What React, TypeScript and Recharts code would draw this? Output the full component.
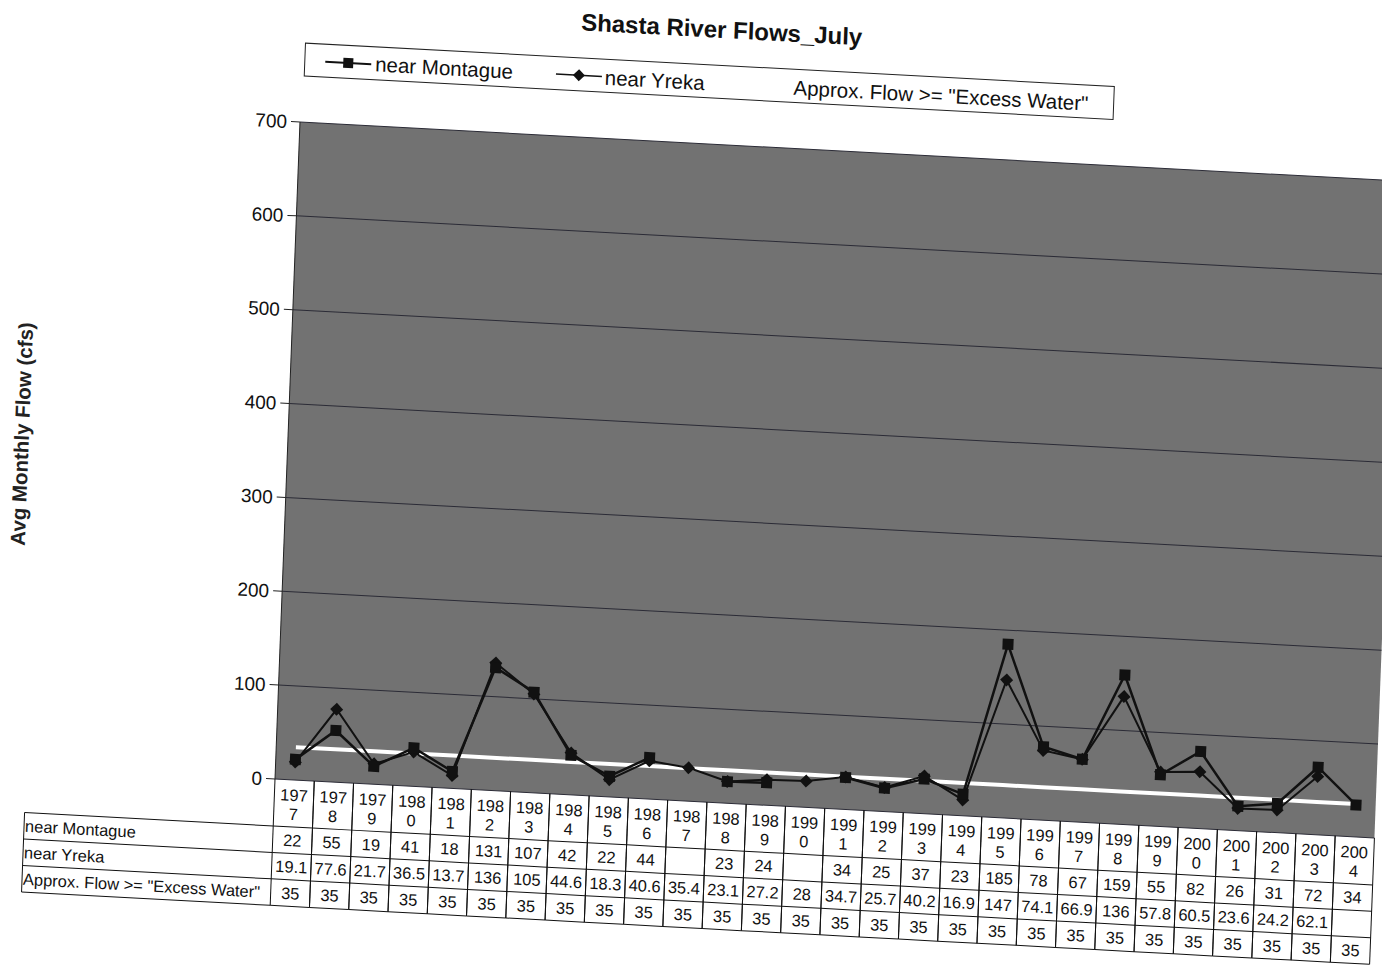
import React from 'react';
import { LineChart, Line, XAxis, YAxis, CartesianGrid } from 'recharts';

const years = ['1977','1978','1979','1980','1981','1982','1983','1984','1985','1986','1987','1988','1989','1990','1991','1992','1993','1994','1995','1996','1997','1998','1999','2000','2001','2002','2003','2004'];
const montague: (number | null)[] = [22,55,19,41,18,131,107,42,22,44,null,23,24,null,34,25,37,23,185,78,67,159,55,82,26,31,72,34];
const yreka: (number | null)[] = [19.1,77.6,21.7,36.5,13.7,136,105,44.6,18.3,40.6,35.4,23.1,27.2,28,34.7,25.7,40.2,16.9,147,74.1,66.9,136,57.8,60.5,23.6,24.2,62.1,null];
const excess: (number | null)[] = [35,35,35,35,35,35,35,35,35,35,35,35,35,35,35,35,35,35,35,35,35,35,35,35,35,35,35,35];
const yTicks = [0,100,200,300,400,500,600,700];
const seriesNames = ['near Montague', 'near Yreka', 'Approx. Flow >= "Excess Water"'];

const data = years.map((y, i) => ({ year: y, montague: montague[i], yreka: yreka[i], excess: excess[i] }));

const W = 1400;
const H = 930;
const PLOT_LEFT = 275;
const PLOT_TOP = 121.6;
const PLOT_RIGHT = 1376;
const PLOT_BOTTOM = 779;
const YAXIS_W = 60;
const XAXIS_H = 130;
const COLW = (PLOT_RIGHT - PLOT_LEFT) / years.length;
const ROWS = [0, 47, 73.5, 100, 126.5];
const FONT = 'Arial, "Liberation Sans", sans-serif';
const INK = '#111';
const TFS = 16.5;

const fmt = (v: number | null) => (v == null ? '' : String(v));

const TableTick = (props: any) => {
  const { x, y, payload } = props;
  const i: number = payload && payload.index != null ? payload.index : props.index;
  const yr: string = String(payload.value);
  const x0 = x - COLW / 2;
  const x1 = x + COLW / 2;
  const vals = [montague[i], yreka[i], excess[i]];
  const els: React.ReactNode[] = [];
  els.push(<line key="l" x1={x0} y1={y + ROWS[0]} x2={x0} y2={y + ROWS[4]} stroke={INK} strokeWidth={1} />);
  els.push(<line key="r" x1={x1} y1={y + ROWS[0]} x2={x1} y2={y + ROWS[4]} stroke={INK} strokeWidth={1} />);
  for (let r = 1; r < ROWS.length; r++) {
    els.push(<line key={'h' + r} x1={x0} y1={y + ROWS[r]} x2={x1} y2={y + ROWS[r]} stroke={INK} strokeWidth={1} />);
  }
  els.push(<text key="y1" x={x} y={y + 15} textAnchor="middle" dominantBaseline="central" fontSize={TFS} fill={INK}>{yr.slice(0, 3)}</text>);
  els.push(<text key="y2" x={x} y={y + 34} textAnchor="middle" dominantBaseline="central" fontSize={TFS} fill={INK}>{yr.slice(3)}</text>);
  vals.forEach((v, r) => {
    els.push(
      <text key={'v' + r} x={x} y={y + (ROWS[r + 1] + ROWS[r + 2]) / 2} textAnchor="middle" dominantBaseline="central" fontSize={TFS} fill={INK}>
        {fmt(v)}
      </text>
    );
  });
  if (i === 0) {
    const lx = 26;
    els.push(<line key="bl" x1={lx} y1={y + ROWS[1]} x2={lx} y2={y + ROWS[4]} stroke={INK} strokeWidth={1} />);
    for (let r = 1; r < ROWS.length; r++) {
      els.push(<line key={'bh' + r} x1={lx} y1={y + ROWS[r]} x2={x0} y2={y + ROWS[r]} stroke={INK} strokeWidth={1} />);
    }
    seriesNames.forEach((n, r) => {
      els.push(
        <text key={'n' + r} x={lx + 1} y={y + (ROWS[r + 1] + ROWS[r + 2]) / 2} dominantBaseline="central" fontSize={TFS} fill={INK}>
          {n}
        </text>
      );
    });
  }
  return <g>{els}</g>;
};

const SquareDot = (p: any) => {
  const { cx, cy, index } = p;
  if (cx == null || cy == null || p.value == null) return <g key={'sq' + index} />;
  return <rect key={'sq' + index} x={cx - 5.5} y={cy - 5.5} width={11} height={11} fill={INK} />;
};

const DiamondDot = (p: any) => {
  const { cx, cy, index } = p;
  if (cx == null || cy == null || p.value == null) return <g key={'dm' + index} />;
  return <polygon key={'dm' + index} points={`${cx},${cy - 6.5} ${cx + 6.5},${cy} ${cx},${cy + 6.5} ${cx - 6.5},${cy}`} fill={INK} />;
};

export default function App() {
  return (
    <div style={{ position: 'absolute', left: 0, top: 0, width: 1382, height: 967, overflow: 'hidden', background: '#fff', fontFamily: FONT }}>
      <div
        style={{
          position: 'absolute',
          left: 0,
          top: 0,
          width: W,
          height: H,
          transformOrigin: '276px 779px',
          transform: 'matrix(0.99856, 0.05356, -0.0380, 0.99928, 0, 0)',
        }}
      >
        <LineChart
          width={W}
          height={H}
          data={data}
          margin={{ top: PLOT_TOP, right: W - PLOT_RIGHT, bottom: H - PLOT_BOTTOM - XAXIS_H, left: PLOT_LEFT - YAXIS_W }}
          style={{ overflow: 'visible' }}
        >
          <CartesianGrid vertical={false} stroke="#2b2b36" strokeWidth={1} fill="#727272" fillOpacity={1} />
          <XAxis
            dataKey="year"
            scale="band"
            height={XAXIS_H}
            axisLine={false}
            tickLine={false}
            tickSize={0}
            tickMargin={0}
            interval={0}
            tick={<TableTick />}
          />
          <YAxis
            domain={[0, 700]}
            ticks={yTicks}
            width={YAXIS_W}
            tickSize={9}
            tickMargin={4}
            axisLine={{ stroke: '#222' }}
            tickLine={{ stroke: '#222' }}
            tick={{ fontSize: 19, fill: INK }}
            interval={0}
          />
          <Line dataKey="excess" stroke="#ffffff" strokeWidth={4} dot={false} activeDot={false} isAnimationActive={false} />
          <Line dataKey="yreka" stroke={INK} strokeWidth={2} dot={<DiamondDot />} activeDot={false} isAnimationActive={false} />
          <Line dataKey="montague" stroke={INK} strokeWidth={2.5} dot={<SquareDot />} activeDot={false} isAnimationActive={false} />
        </LineChart>

        <div style={{ position: 'absolute', left: 693, top: 7, transform: 'translate(-50%, -50%)', fontSize: 24, fontWeight: 'bold', color: INK, whiteSpace: 'nowrap' }}>
          Shasta River Flows_July
        </div>

        <div style={{ position: 'absolute', left: 9, top: 448, transform: 'translate(-50%, -50%) rotate(-90deg)', fontSize: 20.5, fontWeight: 'bold', color: '#222', whiteSpace: 'nowrap' }}>
          Avg Monthly Flow (cfs)
        </div>

        <div style={{ position: 'absolute', left: 277, top: 42, width: 811, height: 34, border: '1px solid #222', boxSizing: 'border-box', background: '#fff' }}>
          <svg style={{ position: 'absolute', left: 20, top: 10, overflow: 'visible' }} width={46} height={14}>
            <line x1={0} y1={7} x2={46} y2={7} stroke={INK} strokeWidth={2} />
            <rect x={18} y={2} width={10} height={10} fill={INK} />
          </svg>
          <div style={{ position: 'absolute', left: 70, top: 17, transform: 'translateY(-50%)', fontSize: 20.5, color: INK, whiteSpace: 'nowrap' }}>{seriesNames[0]}</div>
          <svg style={{ position: 'absolute', left: 251, top: 10, overflow: 'visible' }} width={46} height={14}>
            <line x1={0} y1={7} x2={46} y2={7} stroke={INK} strokeWidth={1.5} />
            <polygon points="23,1 29,7 23,13 17,7" fill={INK} />
          </svg>
          <div style={{ position: 'absolute', left: 300, top: 18, transform: 'translateY(-50%)', fontSize: 20.5, color: INK, whiteSpace: 'nowrap' }}>{seriesNames[1]}</div>
          <div style={{ position: 'absolute', left: 489, top: 18, transform: 'translateY(-50%)', fontSize: 20.5, color: INK, whiteSpace: 'nowrap' }}>{seriesNames[2]}</div>
        </div>
      </div>
    </div>
  );
}
